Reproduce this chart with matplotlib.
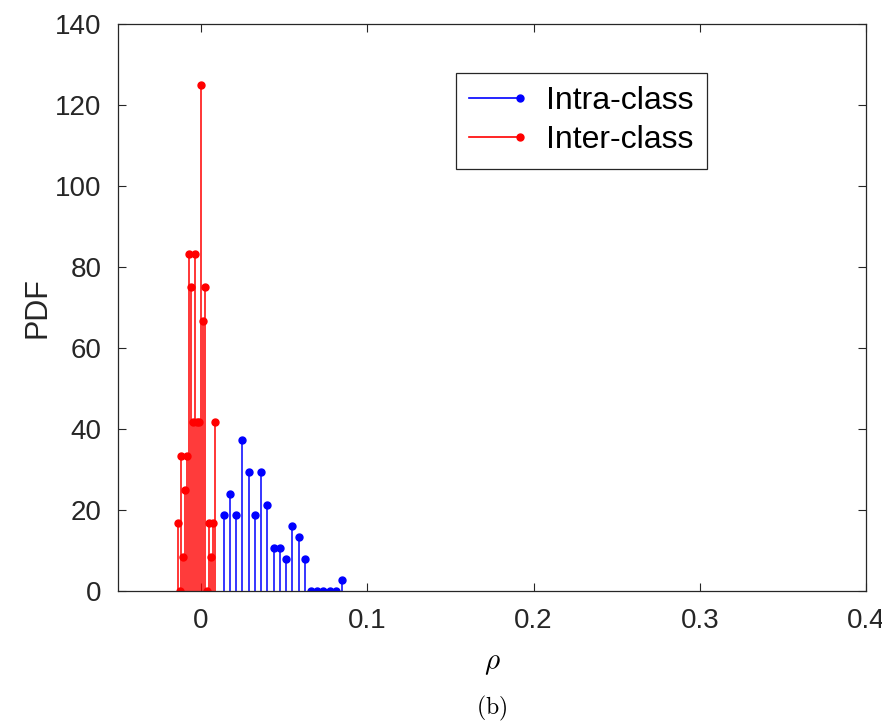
import matplotlib
matplotlib.use("Agg")
import matplotlib.pyplot as plt
from matplotlib.lines import Line2D
from matplotlib.legend_handler import HandlerBase

plt.rcParams['font.family'] = ['Liberation Sans', 'DejaVu Sans']
plt.rcParams['mathtext.fontset'] = 'cm'

# intra-class histogram (pdf)
intra_x = [0.0136, 0.01735, 0.0211, 0.02485, 0.0286, 0.03235, 0.0361, 0.03985, 0.0436, 0.04735,
           0.0511, 0.05485, 0.0586, 0.06235, 0.0661, 0.06985, 0.0736, 0.07735, 0.0811, 0.08485]
intra_pdf = [18.67, 24.0, 18.67, 37.33, 29.33, 18.67, 29.33, 21.33, 10.67, 10.67,
             8.0, 16.0, 13.33, 8.0, 0, 0, 0, 0, 0, 2.67]

# inter-class histogram (pdf)
inter_x = [-0.0142, -0.0130, -0.0118, -0.0106, -0.0094, -0.0082, -0.0070, -0.0058, -0.0046, -0.0034,
           -0.0022, -0.0010, 0.0002, 0.0014, 0.0026, 0.0038, 0.0050, 0.0062, 0.0074, 0.0086]
inter_pdf = [16.67, 0, 33.33, 8.33, 25.0, 33.33, 83.33, 75.0, 41.67, 83.33,
             41.67, 41.67, 125.0, 66.67, 75.0, 0, 16.67, 8.33, 16.67, 41.67]

xticks = [0, 0.1, 0.2, 0.3, 0.4]
xticklabels = ['0', '0.1', '0.2', '0.3', '0.4']
yticks = [0, 20, 40, 60, 80, 100, 120, 140]

dark = '#262626'

fig = plt.figure(figsize=(8.82, 7.28), dpi=100)
ax = fig.add_axes([118/882, 137/728, 748/882, 567/728])

for xs, ys, c in [(intra_x, intra_pdf, '#0000ff'), (inter_x, inter_pdf, '#ff0000')]:
    ml, sl, bl = ax.stem(xs, ys, linefmt='-', markerfmt='o', basefmt=' ')
    plt.setp(sl, color=c, linewidth=1.1)
    plt.setp(ml, color=c, markersize=5)

ax.set_xlim(-0.05, 0.4)
ax.set_ylim(0, 140)
ax.set_xticks(xticks)
ax.set_xticklabels(xticklabels)
ax.set_yticks(yticks)
ax.tick_params(direction='in', top=True, right=True, length=6, width=0.8,
               labelsize=20, colors=dark, pad=12)
for s in ax.spines.values():
    s.set_color(dark)
    s.set_linewidth(0.9)


class StemHandler(HandlerBase):
    def create_artists(self, legend, orig, xdescent, ydescent, width, height, fontsize, trans):
        y = height / 2 - ydescent
        ln = Line2D([-xdescent, width - xdescent], [y, y], color=orig.get_color(), lw=1.2)
        mk = Line2D([width - xdescent], [y], marker='o', color=orig.get_color(), ms=5, lw=0)
        ln.set_transform(trans)
        mk.set_transform(trans)
        return [ln, mk]


h1 = Line2D([], [], color='#0000ff')
h2 = Line2D([], [], color='#ff0000')
leg = ax.legend([h1, h2], ['Intra-class', 'Inter-class'], loc='upper right',
                bbox_to_anchor=(0.787, 0.914), borderaxespad=0, fontsize=23,
                handler_map={Line2D: StemHandler()}, handlelength=1.6,
                handletextpad=0.8, fancybox=False, framealpha=1,
                edgecolor=dark, labelspacing=0.28, borderpad=0.42)
leg.get_frame().set_linewidth(0.9)

fig.text(38/882, 1 - 308/728, 'PDF', rotation=90, ha='center', va='center', fontsize=22, color=dark)
fig.text(492/882, 1 - 663/728, r'$\rho$', ha='center', va='center', fontsize=21)
fig.text(492/882, 1 - 708/728, r'$\mathrm{(b)}$', ha='center', va='center', fontsize=17)

fig.savefig('out.png', dpi=100)
